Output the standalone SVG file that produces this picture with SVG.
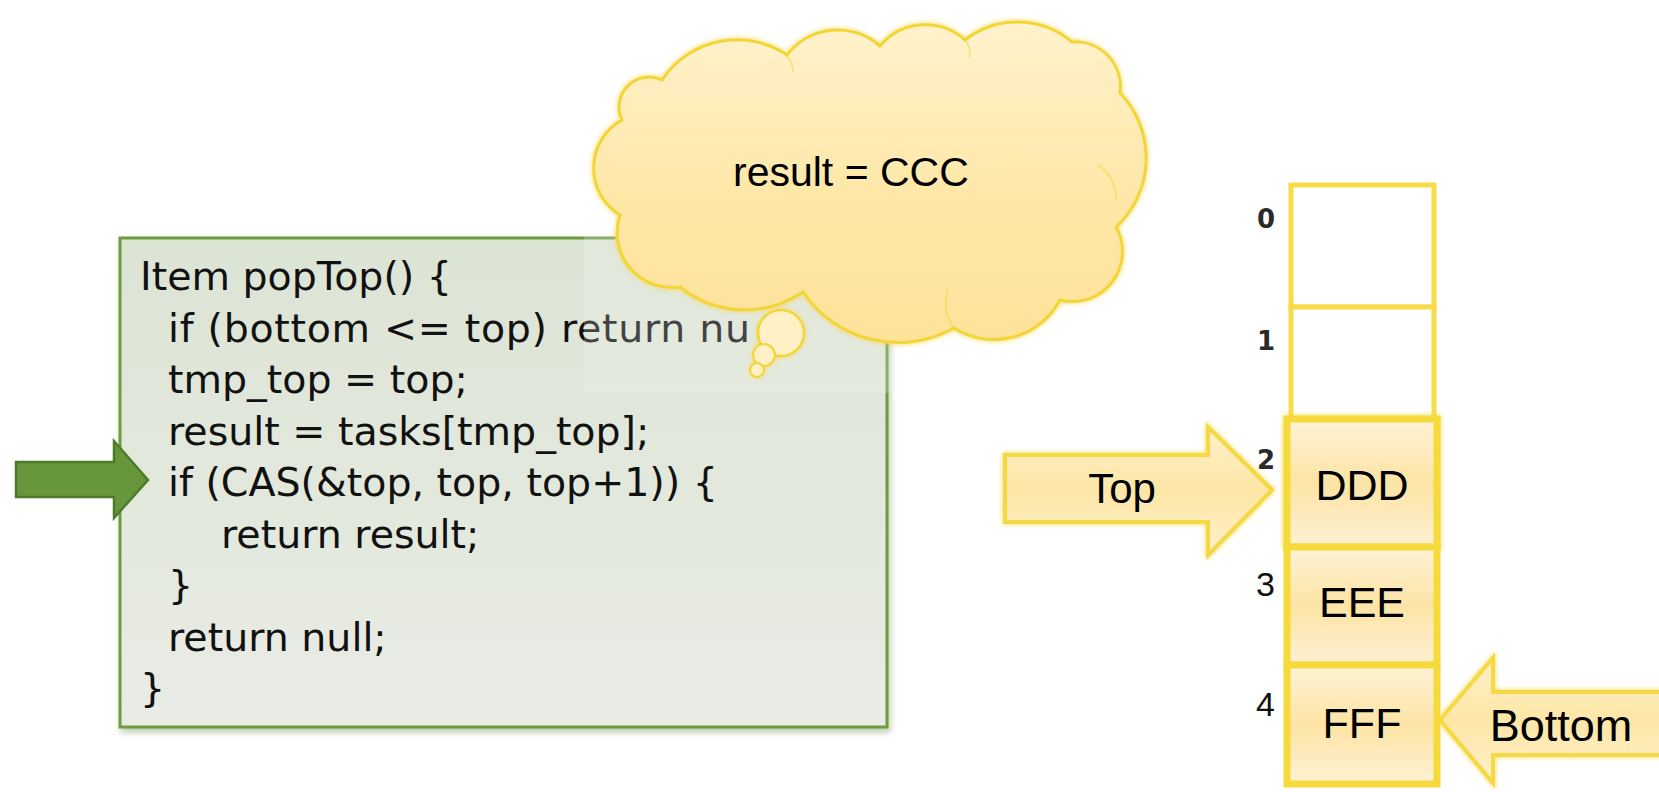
<svg xmlns="http://www.w3.org/2000/svg" width="1659" height="792" viewBox="0 0 1659 792">
  <defs>
    <linearGradient id="boxFill" x1="0" y1="0" x2="0" y2="1">
      <stop offset="0" stop-color="#dce4d4"/>
      <stop offset="1" stop-color="#e9ece5"/>
    </linearGradient>
    <linearGradient id="cloudFill" x1="0" y1="0" x2="0" y2="1">
      <stop offset="0" stop-color="#fff2cc"/>
      <stop offset="0.6" stop-color="#fee6a4"/>
      <stop offset="1" stop-color="#fde29a"/>
    </linearGradient>
    <linearGradient id="cellFill" x1="0" y1="0" x2="0" y2="1">
      <stop offset="0" stop-color="#fef3d6"/>
      <stop offset="0.5" stop-color="#fde4a5"/>
      <stop offset="1" stop-color="#fef1d4"/>
    </linearGradient>
    <linearGradient id="arrowFill" x1="0" y1="0" x2="0" y2="1">
      <stop offset="0" stop-color="#fef0c8"/>
      <stop offset="0.5" stop-color="#fde6a6"/>
      <stop offset="1" stop-color="#fef0cc"/>
    </linearGradient>
    <filter id="glow" x="-10%" y="-10%" width="120%" height="120%">
      <feGaussianBlur in="SourceGraphic" stdDeviation="2.5" result="b"/>
      <feMerge><feMergeNode in="b"/><feMergeNode in="SourceGraphic"/></feMerge>
    </filter>
    <filter id="shadow" x="-5%" y="-5%" width="110%" height="112%">
      <feDropShadow dx="2" dy="4" stdDeviation="3" flood-color="#6a8f4a" flood-opacity="0.45"/>
    </filter>
  </defs>
  <style>
    .code { font-family: "DejaVu Sans", "Liberation Sans", sans-serif; font-size: 39.5px; fill: #111; }
    .lbl { font-family: "Liberation Sans", Arial, sans-serif; fill: #000; }
    .idx { font-family: "DejaVu Sans", sans-serif; font-weight: bold; font-size: 26px; fill: #2a2a2a; }
    .idx2 { font-family: "Liberation Sans", Arial, sans-serif; font-size: 34px; fill: #111; }
    .ycell { fill: url(#cellFill); stroke: #f6d93a; stroke-width: 7; }
    .wcell { fill: #ffffff; stroke: #f7dc48; stroke-width: 5; }
    .yarrow { fill: url(#arrowFill); stroke: #f5d843; stroke-width: 4; stroke-linejoin: miter; }
  </style>

  <rect x="0" y="0" width="1659" height="792" fill="#ffffff"/>

  <g id="code-box">
    <rect x="120" y="238" width="767" height="489" fill="url(#boxFill)" stroke="#6e9a3f" stroke-width="3" filter="url(#shadow)"/>
    <text class="code" x="140" y="290">Item popTop() {</text>
    <text class="code" x="168" y="341.5" textLength="582" lengthAdjust="spacing">if (bottom &lt;= top) return nu</text>
    <text class="code" x="168" y="393">tmp_top = top;</text>
    <text class="code" x="168" y="444.5">result = tasks[tmp_top];</text>
    <text class="code" x="168" y="496">if (CAS(&amp;top, top, top+1)) {</text>
    <text class="code" x="221" y="547.5">return result;</text>
    <text class="code" x="168" y="599">}</text>
    <text class="code" x="168" y="650.5">return null;</text>
    <text class="code" x="140" y="702">}</text>
  </g>

  <g id="pointer-arrow">
    <polygon points="16,462 114,462 114,441 148,480 114,518 114,497 16,497" fill="#67973a" stroke="#4e7a2a" stroke-width="2.5"/>
  </g>

  <g id="thought-cloud">
    <rect x="584" y="232" width="306" height="161" fill="#f7f7f5" fill-opacity="0.22"/>
    <g filter="url(#glow)">
      <path d="M680,287 A55,55 0 0 1 620,215 A55,55 0 0 1 622,120 A30,30 0 0 1 662,80 A90,90 0 0 1 787,55 A64,64 0 0 1 880,46 A59,59 0 0 1 965,40 A85,85 0 0 1 1072,42 A45,45 0 0 1 1120,93 A94,94 0 0 1 1116,227 A50,50 0 0 1 1060,300 A75,75 0 0 1 954,328 A115,115 0 0 1 803,292 A104,104 0 0 1 680,287 Z" fill="url(#cloudFill)" stroke="#f3d534" stroke-width="3"/>
      <circle cx="781" cy="333" r="23" fill="#fff0c6" stroke="#f3d534" stroke-width="2.5"/>
      <circle cx="764" cy="355" r="11" fill="#fff0c6" stroke="#f3d534" stroke-width="2"/>
      <circle cx="757" cy="370" r="7" fill="#fff0c6" stroke="#f3d534" stroke-width="2"/>
    </g>
    <g fill="none" stroke="#f3d534" stroke-width="1.5" opacity="0.6">
      <path d="M1098,165 A40,40 0 0 1 1116,200"/>
      <path d="M954,328 A40,40 0 0 1 948,290"/>
      <path d="M787,55 A30,30 0 0 1 793,72"/>
      <path d="M965,40 A25,25 0 0 1 970,58"/>
    </g>
    <text class="lbl" x="733" y="186" font-size="41">result = CCC</text>
  </g>

  <g id="stack">
    <g id="cell-0">
      <rect class="wcell" x="1291" y="185" width="143" height="122"/>
      <text class="idx" x="1257" y="228">0</text>
    </g>
    <g id="cell-1">
      <rect class="wcell" x="1291" y="307" width="143" height="112"/>
      <text class="idx" x="1257" y="350">1</text>
    </g>
    <g id="cell-2" filter="url(#glow)">
      <rect class="ycell" x="1287" y="419" width="150" height="128"/>
    </g>
    <text class="idx" x="1257" y="469">2</text>
    <text class="lbl" x="1362" y="500" font-size="43" text-anchor="middle">DDD</text>
    <g id="cell-3">
      <rect class="ycell" x="1287" y="547" width="150" height="118"/>
      <text class="idx2" x="1256" y="596">3</text>
      <text class="lbl" x="1362" y="617" font-size="43" text-anchor="middle">EEE</text>
    </g>
    <g id="cell-4">
      <rect class="ycell" x="1287" y="665" width="150" height="119"/>
      <text class="idx2" x="1256" y="716">4</text>
      <text class="lbl" x="1362" y="738" font-size="43" text-anchor="middle">FFF</text>
    </g>
  </g>

  <g id="connectors">
    <g id="top-arrow">
      <polygon class="yarrow" filter="url(#glow)" points="1005,455 1208,455 1208,427 1272,490 1208,555 1208,522 1005,522"/>
      <text class="lbl" x="1122" y="503" font-size="42" text-anchor="middle">Top</text>
    </g>
    <g id="bottom-arrow">
      <polygon class="yarrow" filter="url(#glow)" points="1440,720 1493,658 1493,692 1670,692 1670,755 1493,755 1493,783"/>
      <text class="lbl" x="1561" y="741" font-size="45" text-anchor="middle">Bottom</text>
    </g>
  </g>
</svg>
